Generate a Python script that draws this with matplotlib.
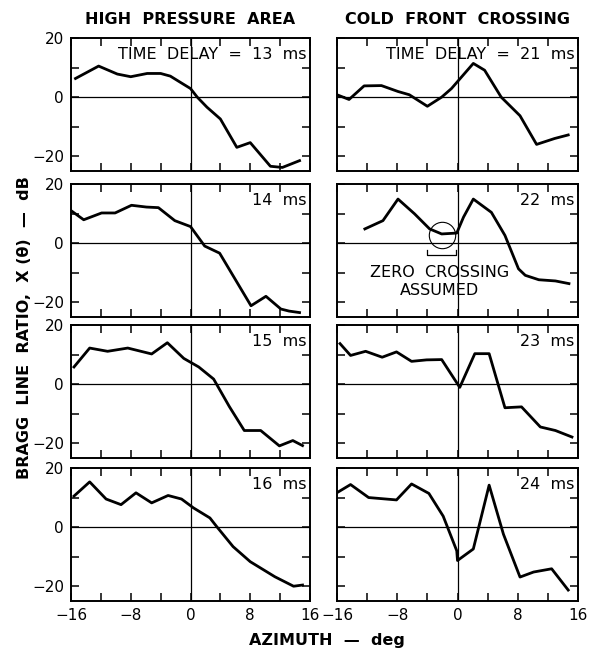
import numpy as np
import matplotlib
matplotlib.use("Agg")
import matplotlib.pyplot as plt

plt.rcParams['font.family'] = ['DejaVu Sans']

# column titles and panel labels
col_titles = ["HIGH  PRESSURE  AREA", "COLD  FRONT  CROSSING"]
delays_left = [13, 14, 15, 16]
delays_right = [21, 22, 23, 24]

# high pressure area, azimuth (deg) / ratio (dB)
az_13 = [-15.4, -12.3, -9.8, -8.0, -5.8, -4.0, -2.7, -1.1, 0.0, 0.9, 2.2, 4.0, 6.2, 8.0, 10.7, 12.3, 14.6]
db_13 = [6.3, 10.5, 7.8, 6.9, 8.0, 8.0, 7.1, 4.6, 2.9, 0.0, -3.4, -7.4, -17.0, -15.4, -23.4, -23.8, -21.5]

az_14 = [-16.0, -14.3, -11.9, -10.1, -7.9, -5.9, -4.3, -2.1, 0.0, 1.9, 3.9, 8.1, 10.1, 12.1, 13.2, 14.6]
db_14 = [11.0, 7.9, 10.2, 10.2, 12.8, 12.2, 12.0, 7.6, 5.6, -1.0, -3.4, -21.2, -18.0, -22.3, -23.0, -23.5]

az_15 = [-15.6, -13.5, -11.1, -8.4, -5.2, -3.1, -0.9, 1.1, 3.1, 5.2, 7.2, 9.4, 11.9, 13.7, 15.0]
db_15 = [5.8, 12.2, 11.1, 12.2, 10.2, 14.0, 8.7, 5.8, 1.7, -7.6, -15.7, -15.7, -20.9, -19.1, -20.8]

az_16 = [-15.6, -13.5, -11.3, -9.3, -7.3, -5.2, -3.0, -1.2, 0.4, 2.6, 3.5, 5.7, 8.0, 11.3, 13.8, 15.0]
db_16 = [10.5, 15.3, 9.5, 7.6, 11.6, 8.2, 10.7, 9.5, 6.5, 3.1, 0.2, -6.6, -11.7, -16.8, -20.0, -19.6]

# cold front crossing
az_21 = [-16.0, -14.4, -12.4, -10.1, -7.9, -6.4, -4.0, -2.1, -0.8, 2.1, 3.6, 5.8, 8.3, 10.5, 12.9, 14.7]
db_21 = [0.8, -0.8, 3.8, 3.9, 1.9, 0.8, -3.1, 0.0, 2.9, 11.4, 9.1, 0.0, -6.3, -16.0, -14.0, -12.8]

az_22 = [-12.3, -9.9, -7.9, -5.7, -3.7, -2.1, -0.1, 0.8, 2.1, 4.5, 6.3, 8.1, 9.0, 10.8, 13.0, 14.8]
db_22 = [4.8, 7.6, 14.9, 9.9, 4.8, 3.1, 3.4, 8.8, 14.9, 10.4, 2.6, -8.7, -10.9, -12.4, -12.8, -13.7]

az_23 = [-15.6, -14.2, -12.2, -10.0, -8.1, -6.1, -4.1, -2.1, 0.3, 2.3, 4.2, 6.3, 8.5, 11.0, 13.0, 15.2]
db_23 = [13.7, 9.7, 11.1, 9.1, 10.9, 7.7, 8.2, 8.3, -1.1, 10.3, 10.3, -8.0, -7.7, -14.5, -15.7, -17.9]

az_24 = [-15.9, -14.2, -11.8, -8.1, -6.1, -3.8, -1.9, -0.1, 0.0, 2.1, 4.2, 6.1, 8.3, 10.1, 12.5, 14.7]
db_24 = [11.8, 14.4, 10.0, 9.2, 14.6, 11.4, 3.7, -8.0, -11.3, -7.4, 14.2, -2.4, -16.9, -15.2, -14.1, -21.3]

# assumed zero crossing in the 22 ms panel
zc_az, zc_db = -2.1, 2.6

left_az = [az_13, az_14, az_15, az_16]
left_db = [db_13, db_14, db_15, db_16]
right_az = [az_21, az_22, az_23, az_24]
right_db = [db_21, db_22, db_23, db_24]

W, H = 599, 650
fig = plt.figure(figsize=(W / 100, H / 100), dpi=100)

row_tops = [38, 184, 325, 468]
row_h = 133
col_lefts = [71, 337]
col_w = [239, 241]


def px_axes(x0, y0, w, h):
    return fig.add_axes([x0 / W, 1 - (y0 + h) / H, w / W, h / H])


def style(ax, show_x, show_y):
    ax.set_xlim(-16, 16)
    ax.set_ylim(-25, 20)
    ax.axhline(0, color='black', lw=0.9)
    ax.axvline(0, color='black', lw=0.9)
    ax.set_xticks(np.arange(-16, 17, 4))
    ax.set_yticks([-20, -10, 0, 10, 20])
    ax.tick_params(direction='in', top=True, right=True, length=6, width=1.1,
                   labelsize=11, pad=5)
    if show_x:
        ax.set_xticks([-16, -8, 0, 8, 16])
        ax.set_xticks([-12, -4, 4, 12], minor=True)
        ax.tick_params(which='minor', direction='in', top=True, length=6, width=1.1)
        ax.set_xticklabels(['\u221216', '\u22128', '0', '8', '16'])
    else:
        ax.set_xticklabels([])
    if show_y:
        ax.set_yticklabels(['\u221220', '', '0', '', '20'])
    else:
        ax.set_yticklabels([])
    for s in ax.spines.values():
        s.set_linewidth(1.4)


for r in range(4):
    for c in range(2):
        ax = px_axes(col_lefts[c], row_tops[r], col_w[c], row_h)
        style(ax, r == 3, c == 0)
        if c == 0:
            ax.plot(left_az[r], left_db[r], color='black', lw=2.0)
            delay = delays_left[r]
        else:
            ax.plot(right_az[r], right_db[r], color='black', lw=2.0)
            delay = delays_right[r]
        label = f"TIME  DELAY  =  {delay}  ms" if r == 0 else f"{delay}  ms"
        ax.text(0.985, 0.93, label, transform=ax.transAxes, ha='right', va='top',
                fontsize=11.5)
        if r == 0:
            ax.set_title(col_titles[c], fontsize=11.5, fontweight='bold', pad=10)
        if c == 1 and r == 1:
            ax.plot([zc_az], [zc_db], marker='o', ms=19, mfc='none', mec='black',
                    mew=0.8)
            # open bracket under the circle
            ax.plot([-4.1, -4.1, -0.2, -0.2], [-2.3, -4.0, -4.0, -2.3],
                    color='black', lw=0.9)
            ax.text(-2.4, -9.8, "ZERO  CROSSING", ha='center', va='center', fontsize=11.5)
            ax.text(-2.4, -16.2, "ASSUMED", ha='center', va='center', fontsize=11.5)

fig.text(25 / W, 1 - 328 / H, "BRAGG  LINE  RATIO,  X (\u03b8)  \u2014  dB", rotation=90,
         ha='center', va='center', fontsize=11.5, fontweight='bold')
fig.text(327 / W, 1 - 640 / H, "AZIMUTH  \u2014  deg", ha='center', va='center',
         fontsize=11.5, fontweight='bold')

fig.savefig("out.png", dpi=100)
